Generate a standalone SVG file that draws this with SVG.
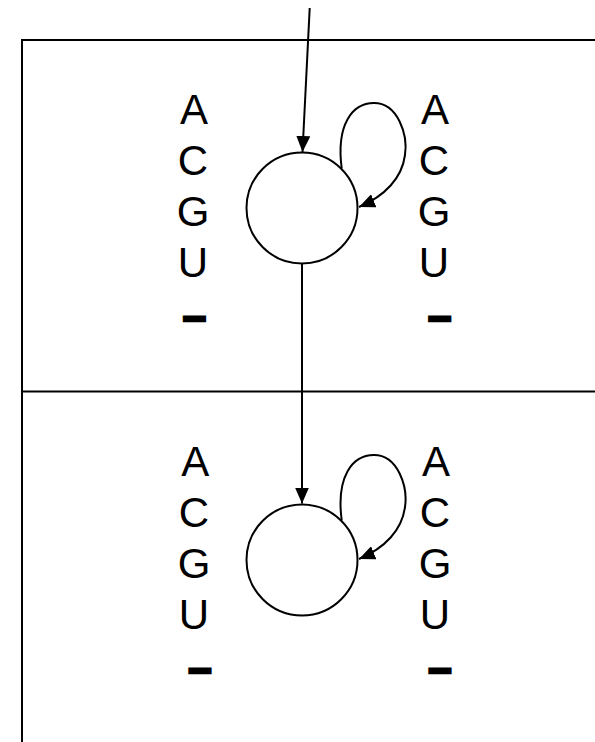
<svg xmlns="http://www.w3.org/2000/svg" width="595" height="742" viewBox="0 0 595 742">
<style>
.frame{stroke:#000;stroke-width:2;fill:none}
.edge{stroke:#000;stroke-width:2;fill:none}
.state{stroke:#000;stroke-width:2;fill:#fff}
.lbl{font-family:"Liberation Sans",Arial,sans-serif;font-size:42px;fill:#000;text-anchor:middle}
.dash{font-family:"Liberation Sans",Arial,sans-serif;font-size:42px;font-weight:bold;fill:#000;stroke:#000;stroke-width:2.5;text-anchor:middle}
</style>
<defs>
<marker id="arr" markerUnits="userSpaceOnUse" markerWidth="16" markerHeight="14" refX="16" refY="7" orient="auto">
<path d="M0,0 L16,7 L0,14 z" fill="#000"/>
</marker>
</defs>
<rect width="595" height="742" fill="#fff"/>
<g id="frame">
<path class="frame" d="M595,40 H22 V742 M22,391.5 H595"/>
</g>
<g id="labels-top">
<text class="lbl" x="194" y="124">A</text>
<text class="lbl" x="193" y="175">C</text>
<text class="lbl" x="193" y="226">G</text>
<text class="lbl" x="193" y="277">U</text>
<text class="dash" x="194.5" y="330">–</text>
<text class="lbl" x="435" y="124">A</text>
<text class="lbl" x="434" y="175">C</text>
<text class="lbl" x="434" y="226">G</text>
<text class="lbl" x="434" y="277">U</text>
<text class="dash" x="439.7" y="330">–</text>
</g>
<g id="labels-bottom">
<text class="lbl" x="195.3" y="476">A</text>
<text class="lbl" x="194" y="527">C</text>
<text class="lbl" x="194" y="578">G</text>
<text class="lbl" x="194" y="629">U</text>
<text class="dash" x="200" y="682">–</text>
<text class="lbl" x="436" y="476">A</text>
<text class="lbl" x="435" y="527">C</text>
<text class="lbl" x="435" y="578">G</text>
<text class="lbl" x="435" y="629">U</text>
<text class="dash" x="440" y="682">–</text>
</g>
<g id="state1">
<circle class="state" cx="302" cy="208" r="55.5"/>
</g>
<g id="state2">
<circle class="state" cx="302" cy="560" r="55.5"/>
</g>
<g id="connectors">
<path class="edge" d="M309.7,8 L302.5,152" marker-end="url(#arr)"/>
<path class="edge" d="M341.7,168.3 C336,125 352,103 374,103 C398,103 408,135 405,155 C402,178 385,196 359,207" marker-end="url(#arr)"/>
<path class="edge" d="M302,263.5 L302,503.5" marker-end="url(#arr)"/>
<path class="edge" d="M341.7,520.3 C336,477 352,455 374,455 C398,455 408,487 405,507 C402,530 385,548 359,559" marker-end="url(#arr)"/>
</g>
</svg>
